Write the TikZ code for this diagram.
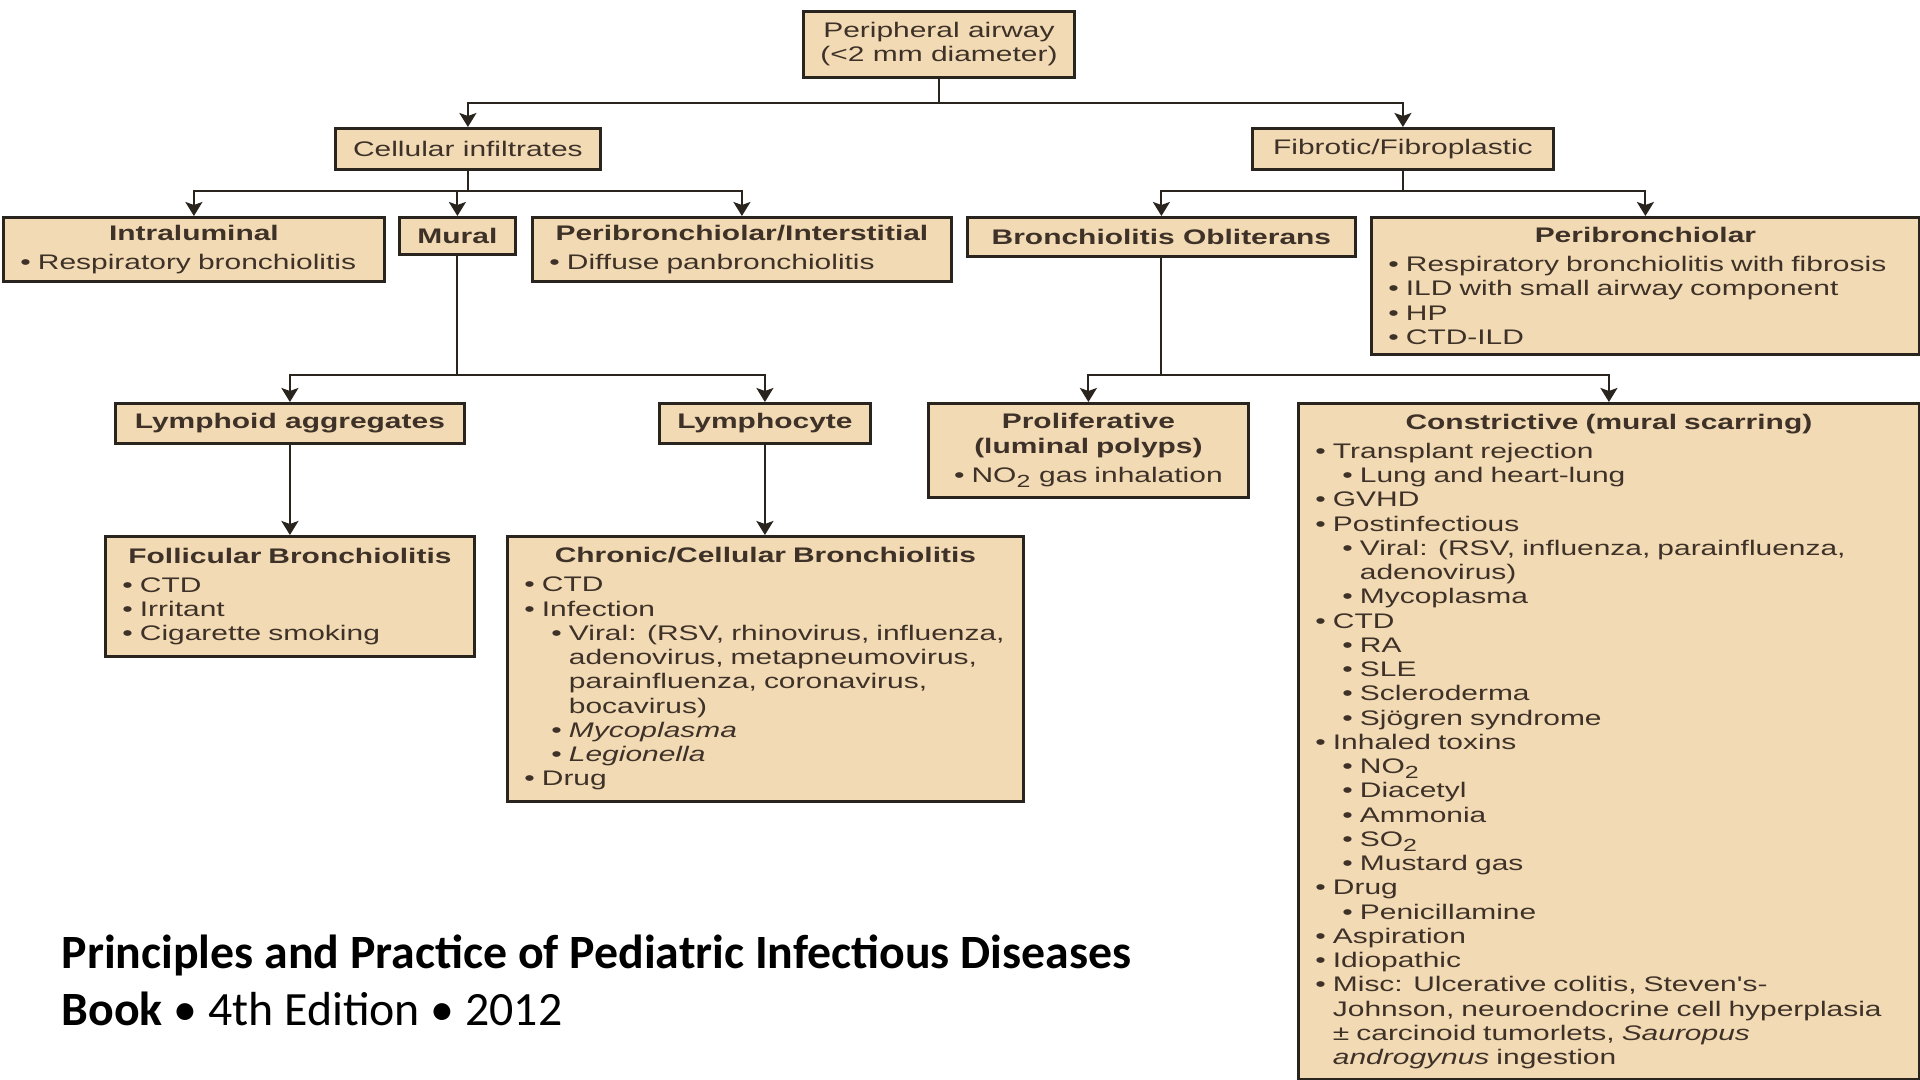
\documentclass[tikz,border=0pt]{standalone}
\usepackage{fontspec}
\newfontfamily\boxfont[FakeStretch=1.42]{Liberation Sans}
\newfontfamily\capfont{Carlito}
\usetikzlibrary{arrows.meta}
\definecolor{tan}{RGB}{242,218,181}
\definecolor{ink}{RGB}{62,50,40}
\definecolor{edge}{RGB}{42,36,30}
\newlength\bulw
\newcommand\hd[1]{{\centering\bfseries #1\par}\vspace{1.4pt}}
\newcommand\ba[1]{\par\settowidth\bulw{\textbullet\ }\hangindent=\bulw\hangafter=1\noindent\textbullet\ #1\par}
\newcommand\bb[1]{\par\settowidth\bulw{\textbullet\ }\hangindent=\dimexpr\bulw+0.27cm\relax\hangafter=1\noindent\hspace*{0.27cm}\textbullet\ #1\par}

\begin{document}
\begin{tikzpicture}[
    box/.style={draw=edge, fill=tan, line width=0.8pt, anchor=north west, text=ink,
      inner xsep=0.17cm, inner ysep=0.05cm, font=\boxfont\fontsize{6}{6.9}\selectfont},
    lst/.style={box, align=left},
    ln/.style={draw=edge, line width=0.6pt},
    arr/.style={ln, -{Stealth[length=0.14cm,width=0.17cm,inset=0.03cm]}}]
    \useasboundingbox[fill=white] (0,0) rectangle (19.2,-10.8);

    \coordinate (lv1) at (0,-1.03);
    \coordinate (lv2) at (0,-1.91);
    \coordinate (lv3) at (0,-3.75);

    \node[box, align=center, minimum width=2.64cm, minimum height=0.66cm] (root) at (8.02,-0.10) {Peripheral airway\\(<2 mm diameter)};
    \node[box, minimum width=2.65cm, minimum height=0.41cm] (cell) at (3.34,-1.27) {Cellular infiltrates};
    \node[box, minimum width=3.01cm, minimum height=0.41cm] (fib) at (12.51,-1.27) {Fibrotic/Fibroplastic};

    \node[lst, text width=3.47cm, minimum height=0.64cm] (intra) at (0.02,-2.16) {\hd{Intraluminal}\ba{Respiratory bronchiolitis}};
    \node[box, minimum width=1.16cm, minimum height=0.37cm] (mural) at (3.98,-2.16) {\textbf{Mural}};
    \node[lst, text width=3.85cm, minimum height=0.64cm] (peri) at (5.31,-2.16) {\hd{Peribronchiolar/Interstitial}\ba{Diffuse panbronchiolitis}};
    \node[box, minimum width=3.88cm, minimum height=0.39cm] (bo) at (9.66,-2.16) {\textbf{Bronchiolitis Obliterans}};
    \node[lst, text width=5.14cm, minimum height=1.37cm] (pbr) at (13.70,-2.16) {\hd{Peribronchiolar}\ba{Respiratory bronchiolitis with fibrosis}\ba{ILD with small airway component}\ba{HP}\ba{CTD-ILD}};

    \node[box, minimum width=3.49cm, minimum height=0.40cm] (lym) at (1.14,-4.02) {\textbf{Lymphoid aggregates}};
    \node[box, minimum width=2.11cm, minimum height=0.40cm] (lyc) at (6.58,-4.02) {\textbf{Lymphocyte}};
    \node[box, align=center, text width=2.86cm, minimum height=0.94cm] (prol) at (9.27,-4.02) {\textbf{Proliferative}\\\textbf{(luminal polyps)}\\[1.4pt]\textbullet\ NO\textsubscript{2} gas inhalation};
    \node[lst, text width=5.87cm, minimum height=6.76cm] (con) at (12.97,-4.02) {\hd{Constrictive (mural scarring)}%
      \ba{Transplant rejection}\bb{Lung and heart-lung}\ba{GVHD}\ba{Postinfectious}%
      \bb{Viral: (RSV, influenza, parainfluenza,\newline adenovirus)}\bb{Mycoplasma}%
      \ba{CTD}\bb{RA}\bb{SLE}\bb{Scleroderma}\bb{Sjögren syndrome}%
      \ba{Inhaled toxins}\bb{NO\textsubscript{2}}\bb{Diacetyl}\bb{Ammonia}\bb{SO\textsubscript{2}}\bb{Mustard gas}%
      \ba{Drug}\bb{Penicillamine}\ba{Aspiration}\ba{Idiopathic}%
      \ba{Misc: Ulcerative colitis, Steven's-\newline Johnson, neuroendocrine cell hyperplasia\newline ± carcinoid tumorlets, \textit{Sauropus}\newline \textit{androgynus} ingestion}};

    \node[lst, text width=3.35cm, minimum height=1.20cm] (fol) at (1.04,-5.35) {\hd{Follicular Bronchiolitis}\ba{CTD}\ba{Irritant}\ba{Cigarette smoking}};
    \node[lst, text width=4.82cm, minimum height=2.65cm] (chr) at (5.06,-5.35) {\hd{Chronic/Cellular Bronchiolitis}%
      \ba{CTD}\ba{Infection}%
      \bb{Viral: (RSV, rhinovirus, influenza,\newline adenovirus, metapneumovirus,\newline parainfluenza, coronavirus,\newline bocavirus)}%
      \bb{\textit{Mycoplasma}}\bb{\textit{Legionella}}\ba{Drug}};

    \node[anchor=base west, align=left, inner sep=0pt, font=\capfont\fontsize{13.6}{16.1}\selectfont] (src) at (0.61,-10.25)
      {\textbf{Principles and Practice of Pediatric Infectious Diseases}\\\textbf{Book} • 4th Edition • 2012};

    \draw[ln] (root.south) -- (root.south |- lv1);
    \draw[arr] (root.south |- lv1) -| (cell.north);
    \draw[arr] (root.south |- lv1) -| (fib.north);
    \draw[ln] (cell.south) -- (cell.south |- lv2);
    \draw[arr] (cell.south |- lv2) -| (intra.north);
    \draw[arr] (cell.south |- lv2) -| (mural.north);
    \draw[arr] (cell.south |- lv2) -| (peri.north);
    \draw[ln] (fib.south) -- (fib.south |- lv2);
    \draw[arr] (fib.south |- lv2) -| (bo.north);
    \draw[arr] (fib.south |- lv2) -| (pbr.north);
    \draw[ln] (mural.south) -- (mural.south |- lv3);
    \draw[arr] (mural.south |- lv3) -| (lym.north);
    \draw[arr] (mural.south |- lv3) -| (lyc.north);
    \draw[ln] (bo.south) -- (bo.south |- lv3);
    \draw[arr] (bo.south |- lv3) -| (prol.north);
    \draw[arr] (bo.south |- lv3) -| (con.north);
    \draw[arr] (lym.south) -- (lym.south |- fol.north);
    \draw[arr] (lyc.south) -- (lyc.south |- chr.north);
\end{tikzpicture}
\end{document}
